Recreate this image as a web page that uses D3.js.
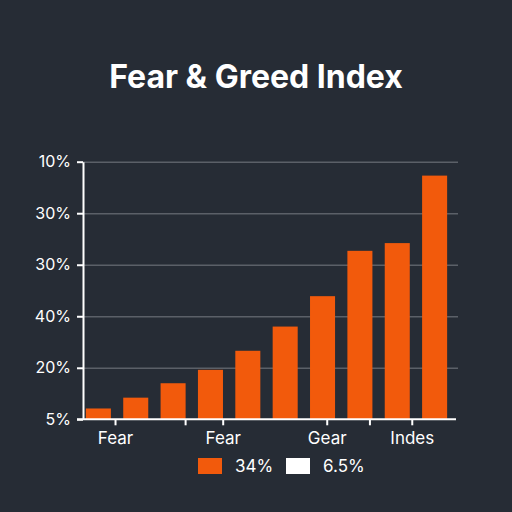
<!DOCTYPE html>
<html>
<head>
<meta charset="utf-8">
<script src="https://cdn.jsdelivr.net/npm/d3@7"></script>
<style>
  html, body { margin: 0; padding: 0; background: #262c35; }
  svg { display: block; }
  text { font-family: "Inter", "Open Sans", sans-serif; }
</style>
</head>
<body>
<div id="chart"></div>
<script>
// bar values (in y-scale units)
var barValues = [2.1, 4.2, 7.0, 9.6, 13.3, 18.0, 23.9, 32.7, 34.2, 47.3];
// y tick labels, bottom to top
var yTickValues = [0, 10, 20, 30, 40, 50];
var yTickLabels = ["5%", "20%", "40%", "30%", "30%", "10%"];
// x ticks, in bar-index units
var xTickValues = [0.85, 2.77, 3.80, 6.65, 7.82, 8.98];
var xTickLabels = ["Fear", "", "Fear", "Gear", "", "Indes"];
// legend
var legendLabels = ["34%", "6.5%"];
var legendColors = ["#f25a0c", "#ffffff"];

var svgWidth = 512, svgHeight = 512;
var orange = "#f25a0c";

var svg = d3.select("#chart")
	.append("svg")
	.attr("width", svgWidth)
	.attr("height", svgHeight);

svg.append("rect")
	.attr("width", svgWidth)
	.attr("height", svgHeight)
	.attr("fill", "#262c35");

svg.append("text")
	.attr("x", 256)
	.attr("y", 88)
	.attr("text-anchor", "middle")
	.attr("fill", "#ffffff")
	.style("font-size", "32px")
	.style("font-weight", "700")
	.text("Fear & Greed Index");

var plotLeft = 83, plotRight = 458, plotTop = 161.7, plotBottom = 419.3;

var xScale = d3.scaleBand()
	.domain(d3.range(barValues.length))
	.range([84, 449])
	.paddingInner(0.33)
	.paddingOuter(0.05);

var xPos = d3.scaleLinear()
	.domain([0, 10])
	.range([84, 449]);

var yScale = d3.scaleLinear()
	.domain([0, 50])
	.range([plotBottom, plotTop]);

//gridlines
svg.append("g")
	.attr("class", "grid")
	.attr("transform", "translate(" + plotLeft + ",0)")
	.call(d3.axisLeft(yScale).tickValues(yTickValues.slice(1)).tickFormat("").tickSize(-(plotRight - plotLeft)))
	.call(function(g) {
		g.select(".domain").remove();
		g.selectAll("line").attr("stroke", "#5b6068").attr("stroke-width", 1.5);
	});

svg.selectAll(".bar")
	.data(barValues)
	.enter().append("rect")
	.attr("class", "bar")
	.attr("x", function(d, i) { return xScale(i); })
	.attr("y", function(d) { return yScale(d); })
	.attr("width", xScale.bandwidth())
	.attr("height", function(d) { return plotBottom - yScale(d); })
	.attr("fill", orange);

// y axis
svg.append("g")
	.attr("transform", "translate(" + plotLeft + ",0)")
	.call(d3.axisLeft(yScale)
		.tickValues(yTickValues)
		.tickFormat(function(d, i) { return yTickLabels[i]; })
		.tickSize(6)
		.tickSizeOuter(0)
		.tickPadding(6))
	.call(function(g) {
		g.select(".domain").attr("stroke", "#ffffff").attr("stroke-width", 2);
		g.selectAll("line").attr("stroke", "#ffffff").attr("stroke-width", 2);
		g.selectAll("text")
			.attr("fill", "#ffffff")
			.style("font-size", "16px")
			.style("font-family", "Inter, 'Open Sans', sans-serif");
	});

// x axis
svg.append("g")
	.attr("transform", "translate(0," + plotBottom + ")")
	.call(d3.axisBottom(xPos)
		.tickValues(xTickValues)
		.tickFormat(function(d, i) { return xTickLabels[i]; })
		.tickSize(6)
		.tickSizeOuter(0)
		.tickPadding(7))
	.call(function(g) {
		g.select(".domain").attr("d", "M" + (plotLeft - 6) + ",0H456").attr("stroke", "#ffffff").attr("stroke-width", 2);
		g.selectAll("line").attr("stroke", "#ffffff").attr("stroke-width", 2);
		g.selectAll("text")
			.attr("fill", "#ffffff")
			.style("font-size", "17px")
			.style("font-family", "Inter, 'Open Sans', sans-serif");
	});

// legend
var legendX = [198, 286];
var legend = svg.selectAll(".legend")
	.data(legendLabels)
	.enter().append("g")
	.attr("class", "legend")
	.attr("transform", function(d, i) { return "translate(" + legendX[i] + ",458)"; });

legend.append("rect")
	.attr("width", 24)
	.attr("height", 16)
	.attr("fill", function(d, i) { return legendColors[i]; });

legend.append("text")
	.attr("x", 37)
	.attr("y", 14)
	.attr("fill", "#ffffff")
	.style("font-size", "17px")
	.text(function(d) { return d; });
</script>
</body>
</html>
